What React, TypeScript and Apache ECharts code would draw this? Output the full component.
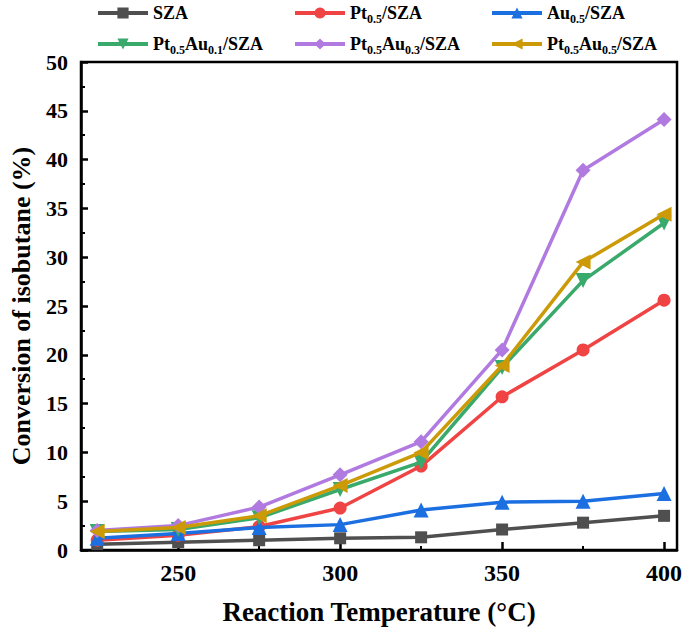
import React, { useEffect, useRef } from "react";
import * as echarts from "echarts";

const temps = [225, 250, 275, 300, 325, 350, 375, 400];
const sza = [0.6, 0.8, 1.0, 1.2, 1.3, 2.1, 2.8, 3.5];
const pt05 = [1.0, 1.5, 2.4, 4.3, 8.6, 15.7, 20.5, 25.6];
const au05 = [1.2, 1.7, 2.3, 2.6, 4.1, 4.9, 5.0, 5.8];
const pt05au01 = [1.9, 2.1, 3.3, 6.2, 9.0, 18.7, 27.6, 33.5];
const pt05au03 = [2.0, 2.5, 4.4, 7.7, 11.1, 20.5, 38.9, 44.1];
const pt05au05 = [1.9, 2.3, 3.5, 6.6, 10.0, 18.9, 29.5, 34.4];

const xMajorTicks = [250, 300, 350, 400];
const xMinorTicks = [225, 275, 325, 375];

const seriesNames = ["SZA", "Pt0.5/SZA", "Au0.5/SZA", "Pt0.5Au0.1/SZA", "Pt0.5Au0.3/SZA", "Pt0.5Au0.5/SZA"];
const legendLabels = [
  "SZA",
  "Pt{s|0.5}/SZA",
  "Au{s|0.5}/SZA",
  "Pt{s|0.5}Au{s|0.1}/SZA",
  "Pt{s|0.5}Au{s|0.3}/SZA",
  "Pt{s|0.5}Au{s|0.5}/SZA",
];
const colors = ["#4f4f4f", "#f04344", "#1b6fe0", "#3aa96c", "#b07ae0", "#cc9a06"];
const symbols = ["rect", "circle", "triangle", "triangle", "diamond", "triangle"];
const symbolRotates = [0, 0, 0, 180, 0, 90];
const symbolSizes = [12, 13, 15, 15, 15, 15];
const values = [sza, pt05, au05, pt05au01, pt05au03, pt05au05];

const legendLefts = [96, 293, 490, 96, 293, 490];
const legendTops = [1, 1, 1, 32, 32, 32];

const FONT = "'Liberation Serif', 'Times New Roman', serif";

export default function App() {
  const ref = useRef<HTMLDivElement>(null);
  useEffect(() => {
    if (!ref.current) return;
    const chart = echarts.init(ref.current, undefined, { renderer: "svg" });
    const series = seriesNames.map((name, i) => ({
      name,
      type: "line",
      xAxisIndex: 0,
      yAxisIndex: 0,
      data: temps.map((t, j) => [t, values[i][j]]),
      color: colors[i],
      lineStyle: { width: 3.5, color: colors[i] },
      itemStyle: { color: colors[i] },
      symbol: symbols[i],
      symbolSize: symbolSizes[i],
      symbolRotate: symbolRotates[i],
      showAllSymbol: true,
      z: 2 + i,
    }));
    const legends = seriesNames.map((name, i) => ({
      data: [name],
      left: legendLefts[i],
      top: legendTops[i],
      padding: 0,
      itemWidth: 50,
      itemHeight: 14,
      itemGap: 4,
      lineStyle: { width: 4 },
      formatter: () => legendLabels[i],
      textStyle: {
        fontFamily: FONT,
        fontWeight: "bold",
        fontSize: 18,
        color: "#000",
        lineHeight: 24,
        rich: {
          s: {
            fontFamily: FONT,
            fontWeight: "bold",
            fontSize: 12,
            color: "#000",
            lineHeight: 14,
            verticalAlign: "bottom",
          },
        },
      },
    }));
    chart.setOption({
      animation: false,
      backgroundColor: "#fff",
      legend: legends,
      grid: {
        left: 78,
        right: 6,
        top: 62,
        bottom: 84,
        show: true,
        borderColor: "#000",
        borderWidth: 2.5,
        containLabel: false,
      },
      xAxis: [
        {
          type: "value",
          min: 220,
          max: 404,
          name: "Reaction Temperature (°C)",
          nameLocation: "middle",
          nameGap: 48,
          nameTextStyle: { fontFamily: FONT, fontWeight: "bold", fontSize: 27, color: "#000" },
          axisLine: { show: true, lineStyle: { color: "#000", width: 2.5 } },
          axisTick: { show: true, inside: true, length: 8, customValues: xMajorTicks, lineStyle: { color: "#000", width: 2.5 } },
          axisLabel: { customValues: xMajorTicks, margin: 11, fontFamily: FONT, fontWeight: "bold", fontSize: 24, color: "#000" },
          splitLine: { show: false },
        },
        {
          type: "value",
          min: 220,
          max: 404,
          position: "bottom",
          axisLine: { show: false },
          axisTick: { show: true, inside: true, length: 4, customValues: xMinorTicks, lineStyle: { color: "#000", width: 2 } },
          axisLabel: { show: false, customValues: xMinorTicks },
          splitLine: { show: false },
        },
      ],
      yAxis: {
        type: "value",
        min: 0,
        max: 50,
        interval: 5,
        name: "Conversion of isobutane (%)",
        nameLocation: "middle",
        nameGap: 47,
        nameTextStyle: { fontFamily: FONT, fontWeight: "bold", fontSize: 26, color: "#000" },
        axisLine: { show: true, lineStyle: { color: "#000", width: 2.5 } },
        axisTick: { show: true, inside: true, length: 7, lineStyle: { color: "#000", width: 2.5 } },
        minorTick: { show: true, splitNumber: 2, length: 4, lineStyle: { color: "#000", width: 2 } },
        axisLabel: { margin: 13, fontFamily: FONT, fontWeight: "bold", fontSize: 22, color: "#000" },
        splitLine: { show: false },
      },
      series,
    });
    return () => chart.dispose();
  }, []);
  return (
    <div
      ref={ref}
      style={{ position: "fixed", left: 0, top: 0, width: 685, height: 634, background: "#fff" }}
    />
  );
}
